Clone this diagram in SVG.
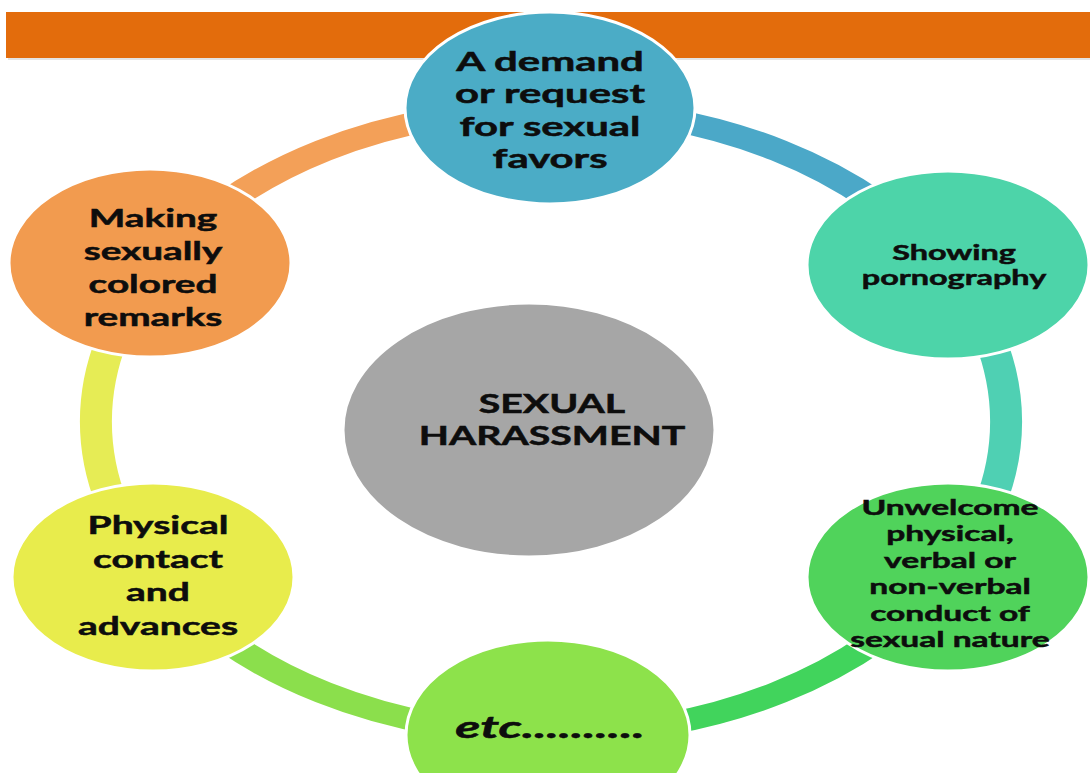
<svg xmlns="http://www.w3.org/2000/svg" width="1090" height="773" viewBox="0 0 1090 773">
  <style>
    .lbl { font-family: Lato, "Open Sans", "Liberation Sans", sans-serif; font-weight: 700; fill: #0d0d0d; stroke: #0d0d0d; stroke-width: 0.5; text-anchor: middle; }
    .node { stroke: #ffffff; stroke-width: 3; }
    .seg { fill: none; stroke-width: 22; }
  </style>

  <rect width="1090" height="773" fill="#ffffff"/>

  <!-- header band -->
  <rect x="6" y="12" width="1084" height="46" fill="#e36c0c"/>
  <rect x="8" y="58" width="1082" height="2" fill="#e4e4e4"/>

  <!-- ring of coloured segments joining the outer nodes -->
  <g id="connectors" transform="translate(551 421.5) scale(1.454 1)">
    <path class="seg" stroke="#4ba8c8" d="M0 -313 A313 313 0 0 1 271.07 -156.5"/>
    <path class="seg" stroke="#4fd0b3" d="M271.07 -156.5 A313 313 0 0 1 271.07 156.5"/>
    <path class="seg" stroke="#41d45c" d="M271.07 156.5 A313 313 0 0 1 0 313"/>
    <path class="seg" stroke="#8bdf4c" d="M0 313 A313 313 0 0 1 -271.07 156.5"/>
    <path class="seg" stroke="#e6ec55" d="M-271.07 156.5 A313 313 0 0 1 -271.07 -156.5"/>
    <path class="seg" stroke="#f3a058" d="M-271.07 -156.5 A313 313 0 0 1 0 -313"/>
  </g>

  <g id="node-center">
    <ellipse class="node" cx="529" cy="430" rx="186" ry="127" fill="#a6a6a6"/>
    <g transform="translate(552 0) scale(1.51 1)">
      <text class="lbl" x="0" y="413" font-size="26">SEXUAL</text>
      <text class="lbl" x="0" y="445" font-size="26">HARASSMENT</text>
    </g>
  </g>

  <g id="node-demand">
    <ellipse class="node" cx="550" cy="108" rx="145" ry="96" fill="#4bacc6"/>
    <g transform="translate(550 0) scale(1.55 1)">
      <text class="lbl" x="0" y="71" font-size="27">A demand</text>
      <text class="lbl" x="0" y="103.5" font-size="27">or request</text>
      <text class="lbl" x="0" y="136" font-size="27">for sexual</text>
      <text class="lbl" x="0" y="168.5" font-size="27">favors</text>
    </g>
  </g>

  <g id="node-pornography">
    <ellipse class="node" cx="948" cy="265" rx="141" ry="94" fill="#4dd4a9"/>
    <g transform="translate(954 0) scale(1.58 1)">
      <text class="lbl" x="0" y="260" font-size="20.5">Showing</text>
      <text class="lbl" x="0" y="285" font-size="20.5">pornography</text>
    </g>
  </g>

  <g id="node-conduct">
    <ellipse class="node" cx="948" cy="577" rx="141" ry="94" fill="#50d35b"/>
    <g transform="translate(950 0) scale(1.56 1)">
      <text class="lbl" x="0" y="515" font-size="21.5">Unwelcome</text>
      <text class="lbl" x="0" y="541.5" font-size="21.5">physical,</text>
      <text class="lbl" x="0" y="568" font-size="21.5">verbal or</text>
      <text class="lbl" x="0" y="594.5" font-size="21.5">non-verbal</text>
      <text class="lbl" x="0" y="621" font-size="21.5">conduct of</text>
      <text class="lbl" x="0" y="647.5" font-size="21.5">sexual nature</text>
    </g>
  </g>

  <g id="node-etc">
    <ellipse class="node" cx="548" cy="735" rx="142" ry="95" fill="#8de24b"/>
    <g transform="translate(550 0) scale(1.72 1)">
      <text class="lbl" x="0" y="738" font-size="30" font-style="italic">etc..........</text>
    </g>
  </g>

  <g id="node-physical">
    <ellipse class="node" cx="153" cy="577" rx="141" ry="94" fill="#e8ec4c"/>
    <g transform="translate(158 0) scale(1.59 1)">
      <text class="lbl" x="0" y="534" font-size="24.5">Physical</text>
      <text class="lbl" x="0" y="568" font-size="24.5">contact</text>
      <text class="lbl" x="0" y="601" font-size="24.5">and</text>
      <text class="lbl" x="0" y="635" font-size="24.5">advances</text>
    </g>
  </g>

  <g id="node-remarks">
    <ellipse class="node" cx="150" cy="263" rx="141" ry="94" fill="#f29b4f"/>
    <g transform="translate(153 0) scale(1.58 1)">
      <text class="lbl" x="0" y="227" font-size="24.5">Making</text>
      <text class="lbl" x="0" y="260" font-size="24.5">sexually</text>
      <text class="lbl" x="0" y="293" font-size="24.5">colored</text>
      <text class="lbl" x="0" y="326" font-size="24.5">remarks</text>
    </g>
  </g>
</svg>
